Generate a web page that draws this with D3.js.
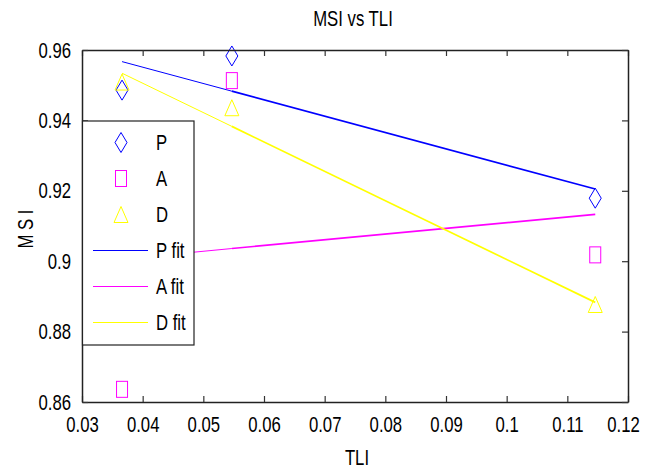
<!DOCTYPE html>
<html><head><meta charset="utf-8">
<script src="https://cdn.jsdelivr.net/npm/d3@7"></script>
<style>
body{margin:0;background:#fff;}
text{font-family:"Liberation Sans",Arial,sans-serif;}
</style></head>
<body><svg id="c" width="645" height="470"></svg>
<script>
const tli = [0.0366, 0.0547, 0.1146];
const pVals = [0.9486, 0.9583, 0.9179];
const aVals = [0.8636, 0.9513, 0.9018];
const dVals = [0.9509, 0.9436, 0.8877];
const pFit = [0.9567, 0.9483, 0.9205];
const aFit = [0.9006, 0.9036, 0.9133];
const dFit = [0.9534, 0.9383, 0.8883];
const xTicks = [0.03,0.04,0.05,0.06,0.07,0.08,0.09,0.1,0.11,0.12];
const yTicks = [0.86,0.88,0.9,0.92,0.94,0.96];
const legendLabels = ["P","A","D","P fit","A fit","D fit"];
const colors = {P:"#0000ff", A:"#ff00ff", D:"#ffff00"};

const svg = d3.select("#c");
const L=82,R=628,T=50,B=402;
const x = d3.scaleLinear().domain([0.03,0.12]).range([L,R]);
const y = d3.scaleLinear().domain([0.86,0.96]).range([B,T]);
const fs = 22;
const squeeze = 0.76;

function marker(g, type, cx, cy, col){
  if(type==="P"){
    g.append("path").attr("d",`M${cx},${cy-10}L${cx+6},${cy}L${cx},${cy+10}L${cx-6},${cy}Z`)
     .attr("fill","none").attr("stroke",col).attr("stroke-width",1);
  } else if(type==="A"){
    g.append("rect").attr("x",cx-5.5).attr("y",cy-8).attr("width",11).attr("height",16)
     .attr("fill","none").attr("stroke",col).attr("stroke-width",1);
  } else {
    g.append("path").attr("d",`M${cx},${cy-8}L${cx+7},${cy+8}L${cx-7},${cy+8}Z`)
     .attr("fill","none").attr("stroke",col).attr("stroke-width",1);
  }
}

const fits = [["P",pFit],["A",aFit],["D",dFit]];
const lineG = svg.append("g");
fits.forEach(([k,f])=>{
  lineG.append("line").attr("x1",x(tli[0])).attr("y1",y(f[0])).attr("x2",x(tli[1])).attr("y2",y(f[1]))
    .attr("stroke",colors[k]).attr("stroke-width",1);
  lineG.append("line").attr("x1",x(tli[1])).attr("y1",y(f[1])).attr("x2",x(tli[2])).attr("y2",y(f[2]))
    .attr("stroke",colors[k]).attr("stroke-width",1.7);
});
const mG = svg.append("g");
[["P",pVals],["A",aVals],["D",dVals]].forEach(([k,v])=>{
  v.forEach((val,i)=>marker(mG,k,x(tli[i]),y(val),colors[k]));
});

const fmt = d=>String(+d.toFixed(2));
const axG = svg.append("g");
const xb = axG.append("g").attr("transform",`translate(0,${B})`)
  .call(d3.axisBottom(x).tickValues(xTicks).tickSizeInner(-6).tickSizeOuter(0).tickPadding(14).tickFormat(fmt));
axG.append("g").attr("transform",`translate(0,${T})`)
  .call(d3.axisTop(x).tickValues(xTicks).tickSizeInner(-6).tickSizeOuter(0).tickFormat(""));
axG.append("g").attr("transform",`translate(${L},0)`)
  .call(d3.axisLeft(y).tickValues(yTicks).tickSizeInner(-6).tickSizeOuter(0).tickPadding(11).tickFormat(fmt));
axG.append("g").attr("transform",`translate(${R},0)`)
  .call(d3.axisRight(y).tickValues(yTicks).tickSizeInner(-6).tickSizeOuter(0).tickFormat(""));
axG.selectAll(".domain").attr("stroke","#222").attr("stroke-width",1.5);
axG.selectAll(".tick line").attr("stroke","#333").attr("stroke-width",1.2);
axG.selectAll(".tick text").attr("font-size",fs).attr("fill","#000")
  .attr("font-family",'"Liberation Sans",Arial,sans-serif');
// x tick labels: condensed by a real transform (centred on the tick); last one nudged left as in reference
xb.selectAll(".tick text").classed("scaled",true)
  .attr("transform",d=>`translate(${d===0.12?-5:0},0) scale(${squeeze},1)`);

const lg = svg.append("g");
lg.append("rect").attr("x",L+0.5).attr("y",121).attr("width",194-L-0.5).attr("height",224)
  .attr("fill","#fff").attr("stroke","#222").attr("stroke-width",1.2);
const ly0 = 142.5, ldy = 36;
legendLabels.forEach((lab,i)=>{
  const cy = ly0 + i*ldy;
  const k = lab[0];
  if(i<3) marker(lg,k,121,cy,colors[k]);
  else lg.append("line").attr("x1",93).attr("x2",148).attr("y1",cy).attr("y2",cy).attr("stroke",colors[k]).attr("stroke-width",1);
  lg.append("text").attr("x",156).attr("y",cy).attr("dy","0.36em").attr("font-size",fs).text(lab);
});

svg.append("text").attr("x",353).attr("y",26).attr("text-anchor","middle").attr("font-size",fs).text("MSI vs TLI");
svg.append("text").attr("x",357).attr("y",465).attr("text-anchor","middle").attr("font-size",fs).text("TLI");
svg.append("text").attr("transform","translate(33,229) rotate(-90)").attr("text-anchor","middle").attr("font-size",fs).text("M S I");

svg.selectAll("text:not(.scaled)").each(function(){
  const w = this.getComputedTextLength();
  if(w>0) d3.select(this).attr("textLength", w*squeeze).attr("lengthAdjust","spacingAndGlyphs");
});
</script></body></html>
